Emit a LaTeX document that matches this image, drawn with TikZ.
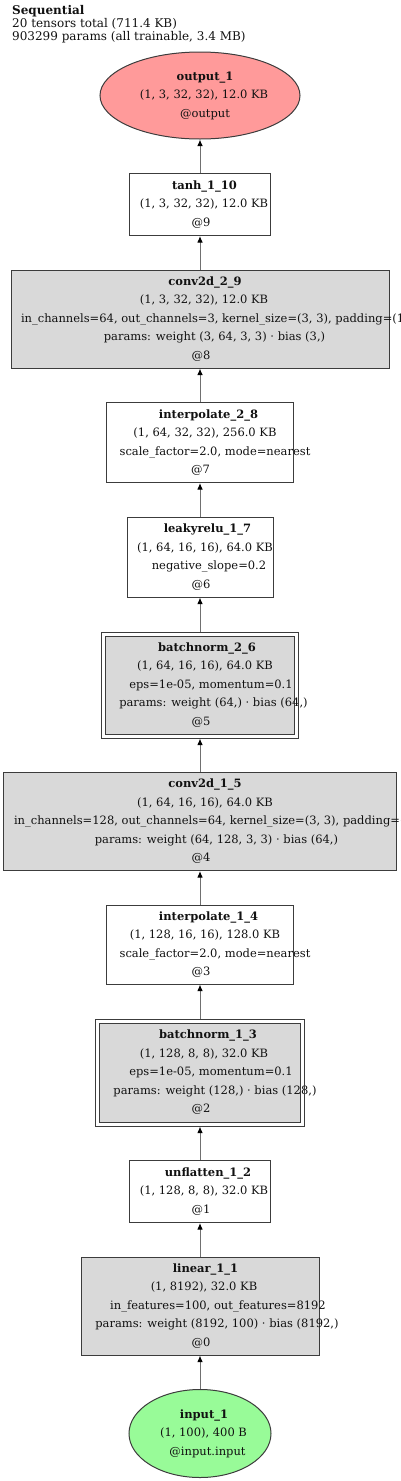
\documentclass[tikz,border=0pt]{standalone}
\usepackage{fontspec}
\setmainfont{DejaVu Serif}
\usetikzlibrary{arrows.meta,positioning,shapes.geometric,fit}
\definecolor{ink}{HTML}{111111}
\definecolor{rule}{HTML}{3C3C3C}
\definecolor{edgegray}{HTML}{707070}
\definecolor{opgray}{HTML}{D9D9D9}
\definecolor{outred}{HTML}{FF9A9A}
\definecolor{ingreen}{HTML}{98FB98}
\tikzset{
  >={Latex[length=6.5pt,width=5.5pt,color=black]},
  every node/.style={text=ink},
  lbl/.style={font=\fontsize{11.5}{18.5}\selectfont,align=center},
  layer/.style={lbl,rectangle,draw=rule,line width=1pt,inner sep=2pt},
  plainop/.style={layer,fill=white},
  paramop/.style={layer,fill=opgray},
  normop/.style={paramop,outer sep=0pt},
  normframe/.style={draw=rule,line width=1pt,inner sep=4pt,outer sep=0.5pt},
  tensor/.style={lbl,ellipse,draw=rule,line width=1pt,inner sep=1pt},
  flow/.style={->,draw=edgegray,line width=1pt},
  header/.style={font=\fontsize{12}{13}\selectfont,align=left,inner sep=0pt},
}
% one label line, its centre moved right by #1
\newcommand{\shline}[2]{\makebox[0pt]{\hspace{#1}\hspace{#1}#2}}
% one label line that starts #1 left of the centre
\newcommand{\lline}[2]{\makebox[0pt][l]{\hspace{-#1}#2}}

\begin{document}
\begin{tikzpicture}[x=1pt,y=1pt,node distance=33.5pt]
\useasboundingbox (0,0) rectangle (400,-1481);

\node[header,anchor=north west] (head) at (12,-5)
{\textbf{Sequential}\\20 tensors total (711.4 KB)\\903299 params (all trainable, 3.4 MB)};

% output side
\node[tensor,fill=outred,minimum width=200pt,minimum height=87pt] (output) at (200,-95.5)
{\shline{5pt}{\textbf{output\_1}}\\\shline{4pt}{(1, 3, 32, 32), 12.0 KB}\\\shline{5pt}{@output}};
\node[plainop,minimum width=141pt,minimum height=62pt,below=of output] (tanh1)
{\shline{4.5pt}{\textbf{tanh\_1\_10}}\\\shline{4pt}{(1, 3, 32, 32), 12.0 KB}\\\shline{1pt}{@9}};
\node[paramop,minimum width=378pt,minimum height=98pt,below=of tanh1] (conv2)
{\shline{5pt}{\textbf{conv2d\_2\_9}}\\\shline{4pt}{(1, 3, 32, 32), 12.0 KB}\\
 \lline{179pt}{in\_channels=64, out\_channels=3, kernel\_size=(3, 3), padding=(1, 1)}\\
 \shline{14.5pt}{params: weight (3, 64, 3, 3) · bias (3,)}\\\shline{1pt}{@8}};
\node[plainop,minimum width=187pt,minimum height=80pt,below=of conv2] (interp2)
{\shline{8.5pt}{\textbf{interpolate\_2\_8}}\\\shline{5pt}{(1, 64, 32, 32), 256.0 KB}\\
 \shline{15pt}{scale\_factor=2.0, mode=nearest}\\\shline{0.5pt}{@7}};
\node[plainop,minimum width=146pt,minimum height=80pt,below=of interp2] (leaky1)
{\shline{7.5pt}{\textbf{leakyrelu\_1\_7}}\\\shline{5pt}{(1, 64, 16, 16), 64.0 KB}\\
 \shline{9pt}{negative\_slope=0.2}\\\shline{1pt}{@6}};
\node[normop,minimum width=189pt,minimum height=98pt,below=38.5pt of leaky1] (bnorm2)
{\shline{7pt}{\textbf{batchnorm\_2\_6}}\\\shline{5pt}{(1, 64, 16, 16), 64.0 KB}\\
 \shline{11pt}{eps=1e-05, momentum=0.1}\\\shline{13.5pt}{params: weight (64,) · bias (64,)}\\\shline{1pt}{@5}};
\node[normframe,fit=(bnorm2)] (bnorm2frame) {};

% input side
\node[paramop,minimum width=393pt,minimum height=98pt,below=of bnorm2frame] (conv1)
{\shline{5pt}{\textbf{conv2d\_1\_5}}\\\shline{5pt}{(1, 64, 16, 16), 64.0 KB}\\
 \lline{186pt}{in\_channels=128, out\_channels=64, kernel\_size=(3, 3), padding=(1, 1)}\\
 \shline{16.5pt}{params: weight (64, 128, 3, 3) · bias (64,)}\\\shline{1pt}{@4}};
\node[plainop,minimum width=187pt,minimum height=79pt,below=of conv1] (interp1)
{\shline{8.5pt}{\textbf{interpolate\_1\_4}}\\\shline{5pt}{(1, 128, 16, 16), 128.0 KB}\\
 \shline{15pt}{scale\_factor=2.0, mode=nearest}\\\shline{1pt}{@3}};
\node[normop,minimum width=201pt,minimum height=99pt,below=38.5pt of interp1] (bnorm1)
{\shline{8pt}{\textbf{batchnorm\_1\_3}}\\\shline{4pt}{(1, 128, 8, 8), 32.0 KB}\\
 \shline{11pt}{eps=1e-05, momentum=0.1}\\\shline{15pt}{params: weight (128,) · bias (128,)}\\\shline{1pt}{@2}};
\node[normframe,fit=(bnorm1)] (bnorm1frame) {};
\node[plainop,minimum width=141pt,minimum height=62pt,below=of bnorm1frame] (unflat1)
{\shline{8pt}{\textbf{unflatten\_1\_2}}\\\shline{4pt}{(1, 128, 8, 8), 32.0 KB}\\\shline{1pt}{@1}};
\node[paramop,minimum width=238pt,minimum height=98pt,below=of unflat1] (linear1)
{\shline{5.5pt}{\textbf{linear\_1\_1}}\\\shline{4pt}{(1, 8192), 32.0 KB}\\
 \shline{18pt}{in\_features=100, out\_features=8192}\\\shline{17pt}{params: weight (8192, 100) · bias (8192,)}\\\shline{1pt}{@0}};
\node[tensor,fill=ingreen,minimum width=142pt,minimum height=88pt,below=of linear1] (input)
{\shline{4pt}{\textbf{input\_1}}\\\shline{3.5pt}{(1, 100), 400 B}\\\shline{7.5pt}{@input.input}};

\foreach \a/\b in {input/linear1,linear1/unflat1,unflat1/bnorm1frame,bnorm1frame/interp1,interp1/conv1,
  conv1/bnorm2frame,bnorm2frame/leaky1,leaky1/interp2,interp2/conv2,conv2/tanh1,tanh1/output}
  \draw[flow] (\a) -- (\b);

\end{tikzpicture}
\end{document}
